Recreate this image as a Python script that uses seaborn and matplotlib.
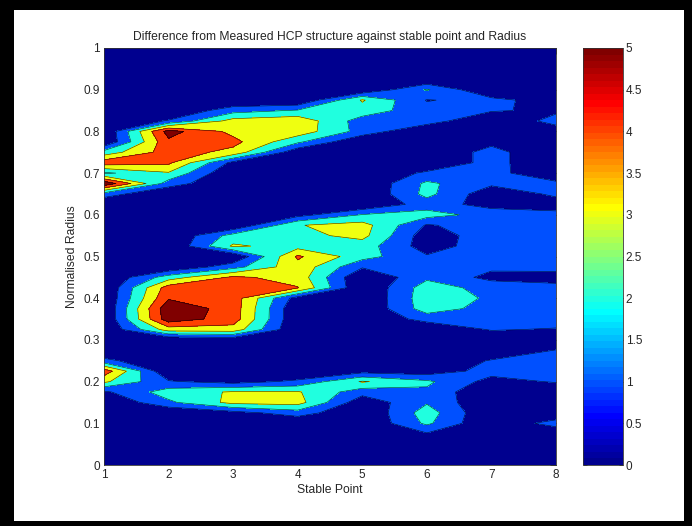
import numpy as np
import matplotlib
matplotlib.use("Agg")
import matplotlib.pyplot as plt
import seaborn as sns
from matplotlib.colors import ListedColormap, Normalize
from matplotlib.patches import Rectangle
from matplotlib.cm import ScalarMappable

# ---------------- data ----------------
stable_points = [1, 2, 3, 4, 5, 6, 7, 8]
radius = [round(0.025 * i, 3) for i in range(41)]   # 0, 0.025, ..., 1

# values of the difference at each radius node, one list per stable point
col1 = [0,0,0,0,0,0,0,0.8,3.2,4.6,1.3,0,0,0,0,0,0,0,0,0,0,0,0,0,0,0,1.5,5.8,1.8,4.6,2.4,0,0,0,0,0,0,0,0,0,0]
col2 = [0,0,0,0,0,0,1.8,2.5,1.1,0,0,0,0,3.5,5.6,5.75,4.9,4.5,2.5,0,0,0,0,0,0,0,0,1.5,2.9,4.2,4.5,4.8,5.4,1.1,0,0,0,0,0,0,0]
col3 = [0,0,0,0,0,0.6,3.3,3.1,0.6,0,0,0,0.2,3.6,4.5,4.55,4.55,4.5,4.2,1.6,0,3.15,2.4,0,0,0,0,0,0,0.7,3.7,4.3,3.7,3.4,1.6,0,0,0,0,0,0]
col4 = [0,0,0,0,0,1.5,3.4,3.1,1.2,0,0,0,0,0,0,0,0.5,4.05,3.6,3.7,4.15,2.6,2.7,2.95,0.6,0,0,0,0,0,0.2,2.2,3.6,3.7,2.1,0,0,0,0,0,0]
col5 = [0,0,0,0,0,0,0.3,1.4,3.1,0.6,0,0,0,0,0,0,0,0,0,1.1,2.4,2.5,3.3,3.4,2.05,0,0,0,0,0,0,0,1.6,1.5,2.6,3.1,0,0,0,0,0]
col6 = [0,0,0,0.9,2.2,2.5,1.9,1.8,2.2,0.4,0,0,0,0,1.4,2.5,2.6,2.5,1.8,1.5,1.1,0.5,0.4,0.9,2.4,1.5,2.3,2.2,1.2,0,0,0,0,1.5,1.3,0.95,2.1,0,0,0,0]
col7 = [0,0,0,0,0,0,0,0,0.6,1.4,1.1,0,0,1.1,1.5,1.6,1.85,1.6,0.7,1.2,1.5,1.6,1.6,1.5,1.6,0.6,0.3,1.2,1.3,1.4,1.4,0.7,0,0,1.1,1.3,0,0,0,0,0]
col8 = [0,0,0,0,1.5,0,0,0,1.1,1.5,1.4,1.05,0,0.9,1.6,1.6,1.5,1.3,0.6,1.3,1.5,1.5,1.5,1.4,1.3,0.5,1.2,1.2,0.3,0,0,0,0.4,1.4,0.8,0.5,0,0,0,0,0]

contour_levels = [1, 2, 3, 4, 5]
cbar_ticks = [0, 0.5, 1, 1.5, 2, 2.5, 3, 3.5, 4, 4.5, 5]
cbar_labels = ["0", "0.5", "1", "1.5", "2", "2.5", "3", "3.5", "4", "4.5", "5"]
x_ticks = [1, 2, 3, 4, 5, 6, 7, 8]
y_ticks = [0, 0.1, 0.2, 0.3, 0.4, 0.5, 0.6, 0.7, 0.8, 0.9, 1]
y_labels = ["0", "0.1", "0.2", "0.3", "0.4", "0.5", "0.6", "0.7", "0.8", "0.9", "1"]

title = "Difference from Measured HCP structure against stable point and Radius"
xlabel = "Stable Point"
ylabel = "Normalised Radius"

# ---------------- style ----------------
sns.set_style("white")
plt.rcParams["font.family"] = ["Liberation Sans", "DejaVu Sans"]
plt.rcParams["font.size"] = 8.5


def matlab_jet(m=64):
    n = int(np.ceil(m / 4))
    u = np.concatenate([np.arange(1, n + 1) / n, np.ones(n - 1), np.arange(n, 0, -1) / n])
    g = int(np.ceil(n / 2)) - (1 if m % 4 == 1 else 0) + np.arange(1, len(u) + 1)
    r = g + n
    b = g - n
    cols = np.zeros((m, 3))
    for arr, ch in ((r, 0), (g, 1), (b, 2)):
        for k, idx in enumerate(arr):
            if 1 <= idx <= m:
                cols[idx - 1, ch] = u[k]
    return cols


jet64 = matlab_jet(64)
cmap = ListedColormap(jet64)
fill_levels = [-1] + contour_levels + [100]
fill_colors = [jet64[min(63, int(np.floor(v / 5 * 64)))] for v in [0] + contour_levels]

Z = np.column_stack([col1, col2, col3, col4, col5, col6, col7, col8])
X, Y = np.meshgrid(stable_points, radius)

W, H = 692, 526
fig = plt.figure(figsize=(W / 100, H / 100), dpi=100)
fig.patch.set_facecolor("black")
fig.patches.append(Rectangle((14 / W, 5 / H), (W - 22) / W, (H - 15) / H,
                             transform=fig.transFigure, facecolor="white",
                             edgecolor="none", zorder=-10))

ax = fig.add_axes([104 / W, (H - 465) / H, (556 - 104) / W, (465 - 48) / H])
ax.contourf(X, Y, Z, levels=fill_levels, colors=fill_colors)
ax.contour(X, Y, Z, levels=contour_levels, colors="k", linewidths=0.45, alpha=0.75)
ax.set_xlim(1, 8)
ax.set_ylim(0, 1)
ax.set_xticks(x_ticks)
ax.set_xticklabels([str(t) for t in x_ticks])
ax.set_yticks(y_ticks)
ax.set_yticklabels(y_labels)
ax.tick_params(direction="in", top=True, right=True, length=4, width=0.6,
               labelsize=8.5, pad=3)
for s in ax.spines.values():
    s.set_linewidth(0.6)
    s.set_color("#333333")
ax.set_title(title, fontsize=8.7, pad=6)
ax.set_xlabel(xlabel, fontsize=8.7, labelpad=2)
ax.set_ylabel(ylabel, fontsize=8.7, labelpad=4)

cax = fig.add_axes([583 / W, (H - 465) / H, 40 / W, (465 - 48) / H])
sm = ScalarMappable(norm=Normalize(0, 5), cmap=cmap)
cb = fig.colorbar(sm, cax=cax, ticks=cbar_ticks)
cb.ax.set_yticklabels(cbar_labels)
cb.ax.tick_params(direction="in", left=True, right=True, length=3, width=0.6,
                  labelsize=8.5, pad=2)
cb.outline.set_linewidth(0.6)
cb.outline.set_edgecolor("#333333")

fig.savefig("out.png", dpi=100, facecolor=fig.get_facecolor())
